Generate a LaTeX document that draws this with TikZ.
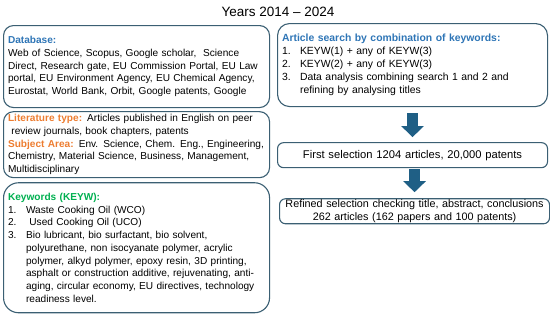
\documentclass[tikz,border=0pt]{standalone}
\usepackage{fontspec}
\setmainfont{Liberation Sans}
\usetikzlibrary{arrows.meta,positioning}

\definecolor{boxline}{HTML}{3B5F73}
\definecolor{arrowblue}{HTML}{1F5F85}
\definecolor{headblue}{HTML}{2E75B6}
\definecolor{headorange}{HTML}{ED7D31}
\definecolor{headgreen}{HTML}{00B050}

\newcommand{\itm}[1]{\makebox[18pt][l]{#1}}
\newcommand{\ind}{\hspace*{18pt}}

\begin{document}
\begin{tikzpicture}[x=1pt, y=-1pt,
    font=\fontsize{10.1}{12.7}\selectfont,
    infobox/.style={draw=boxline, line width=1.1pt, rounded corners=10pt,
        align=left, inner xsep=4.5pt, inner ysep=0pt},
    leftbox/.style={infobox, minimum width=266pt, text width=257pt},
    rightbox/.style={infobox, minimum width=270pt, text width=261pt},
    flowarrow/.style={draw=arrowblue, line width=11pt,
        -{Triangle[width=22pt,length=11pt]}},
    heading/.style={font=\fontsize{13.5}{16}\selectfont}]
	\useasboundingbox (0,0) rectangle (550,314);
	
	\node[heading] (years) at (278,12) {Years 2014 -- 2024};
	
	% left column
	\node[leftbox, minimum height=82pt, anchor=north west] (database) at (3,25) {%
		{\color{headblue}\bfseries Database:}\\
		Web of Science, Scopus, Google scholar,\ \ Science\\
		Direct, Research gate, EU Commission Portal, EU Law\\
		portal, EU Environment Agency, EU Chemical Agency,\\
		Eurostat, World Bank, Orbit, Google patents, Google};
	\node[leftbox, minimum height=66pt, below=3pt of database] (littype) {%
		{\color{headorange}\bfseries Literature type:} Articles published in English on peer\\
		\ review journals, book chapters, patents\\
		{\color{headorange}\bfseries Subject Area:} Env. Science, Chem. Eng., Engineering,\\
		Chemistry, Material Science, Business, Management,\\
		Multidisciplinary};
	\node[leftbox, minimum height=130pt, rounded corners=15pt, below=4pt of littype] (keywords) {%
		{\color{headgreen}\bfseries Keywords (KEYW):}\\
		\itm{1.}Waste Cooking Oil (WCO)\\
		\itm{2.}\ Used Cooking Oil (UCO)\\
		\itm{3.}Bio lubricant, bio surfactant, bio solvent,\\
		\ind polyurethane, non isocyanate polymer, acrylic\\
		\ind polymer, alkyd polymer, epoxy resin, 3D printing,\\
		\ind asphalt or construction additive, rejuvenating, anti-\\
		\ind aging, circular economy, EU directives, technology\\
		\ind readiness level.};
	
	% right column
	\node[rightbox, minimum height=83pt, rounded corners=12pt, anchor=north west,
	      font=\fontsize{10.4}{12.9}\selectfont] (search) at (277,23) {%
		{\color{headblue}\bfseries Article search by combination of keywords:}\\
		\itm{1.}KEYW(1) + any of KEYW(3)\\
		\itm{2.}KEYW(2) + any of KEYW(3)\\
		\itm{3.}Data analysis combining search 1 and 2 and\\
		\ind refining by analysing titles};
	\node[rightbox, minimum height=25pt, align=center, rounded corners=6pt,
	      font=\fontsize{11.2}{12.6}\selectfont,
	      below=35pt of search.south west, anchor=north west] (first) {%
		First selection 1204 articles, 20,000 patents};
	\node[rightbox, minimum height=25pt, align=center, rounded corners=6pt,
	      font=\fontsize{10.8}{12.2}\selectfont,
	      below=30pt of first.south west, anchor=north west, xshift=2pt] (refined) {%
		Refined selection checking title, abstract, conclusions\\
		262 articles (162 papers and 100 patents)};
	
	\draw[flowarrow, shorten <=6pt, shorten >=5pt] (first.north |- search.south) -- (first.north);
	\draw[flowarrow, shorten <=1pt, shorten >=6pt] (refined.north |- first.south) -- (refined.north);
\end{tikzpicture}
\end{document}
